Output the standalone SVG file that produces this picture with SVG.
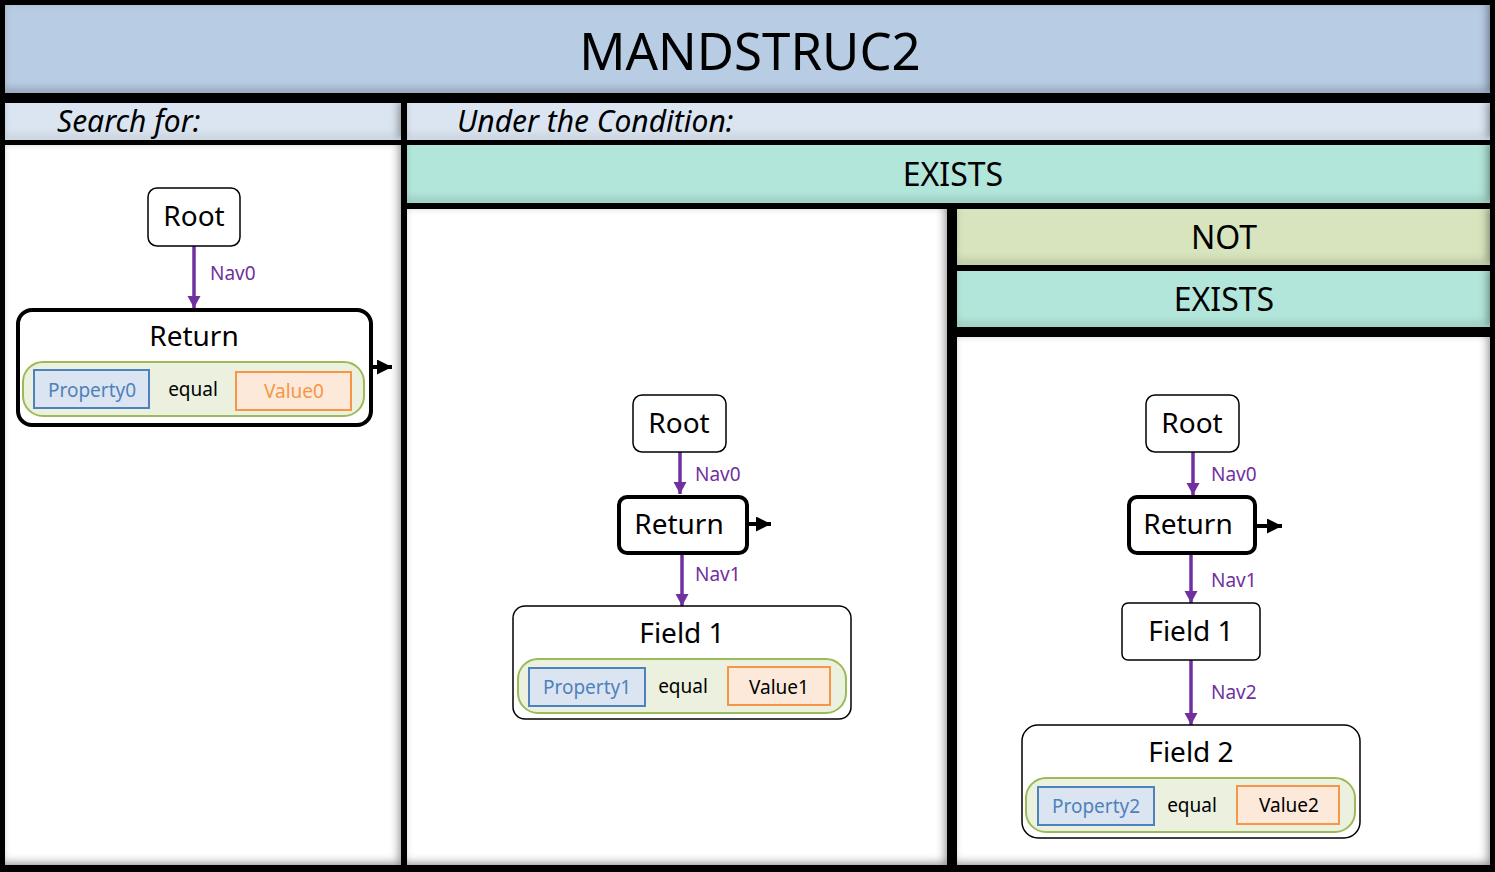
<svg xmlns="http://www.w3.org/2000/svg" width="1495" height="872" viewBox="0 0 1495 872">
<style>
text{font-family:"Noto Sans","Open Sans","Liberation Sans",sans-serif;fill:#000}
.hdr{font-size:30px;font-style:italic}
.band{font-size:32px;text-anchor:middle}
.nodeT{font-size:28px;text-anchor:middle}
.nav{font-size:19px;fill:#7030a0}
.node{fill:#fff;stroke:#000;stroke-width:1.5}
.ret{fill:#fff;stroke:#000;stroke-width:4}
.pill{fill:#ebf1de;stroke:#9bbb59;stroke-width:2}
.prop{fill:#dbe5f1;stroke:#4f81bd;stroke-width:2}
.val{fill:#fde9d9;stroke:#f79646;stroke-width:2}
.pt{fill:#4f81bd;text-anchor:middle;font-size:19px}
.eq{text-anchor:middle;font-size:19px}
.vt{text-anchor:middle;font-size:19px}
.nv{stroke:#7030a0;stroke-width:3.5;fill:none}
.out{stroke:#000;stroke-width:4;fill:none}
</style>
<defs>
<filter id="inset" x="-5%" y="-5%" width="110%" height="110%">
<feFlood flood-color="#000" flood-opacity="0.7" result="f"/>
<feComposite in="f" in2="SourceAlpha" operator="out" result="o"/>
<feOffset in="o" dx="-3" dy="-3" result="oo"/>
<feGaussianBlur in="oo" stdDeviation="4" result="b"/>
<feComposite in="b" in2="SourceAlpha" operator="in" result="s"/>
<feMerge><feMergeNode in="SourceGraphic"/><feMergeNode in="s"/></feMerge>
</filter>
<marker id="pa" markerUnits="userSpaceOnUse" markerWidth="14" markerHeight="14" refX="12" refY="6.5" orient="auto">
<path d="M0,0 L12,6.5 L0,13 Z" fill="#7030a0"/>
</marker>
<marker id="ba" markerUnits="userSpaceOnUse" markerWidth="18" markerHeight="18" refX="15" refY="7.5" orient="auto">
<path d="M0,0 L15,7.5 L0,15 Z" fill="#000"/>
</marker>
</defs>
<rect x="0" y="0" width="1495" height="872" fill="#000"/>
<g id="panels">
<rect x="5" y="5" width="1485" height="88" fill="#b8cce4" filter="url(#inset)"/>
<rect x="5" y="103" width="396" height="37" fill="#dbe5f1" filter="url(#inset)"/>
<rect x="407" y="103" width="1083" height="37" fill="#dbe5f1" filter="url(#inset)"/>
<rect x="5" y="145" width="396" height="720" fill="#fff" filter="url(#inset)"/>
<rect x="407" y="145" width="1083" height="58" fill="#b2e6da" filter="url(#inset)"/>
<rect x="407" y="209" width="540" height="656" fill="#fff" filter="url(#inset)"/>
<rect x="957" y="209" width="533" height="56" fill="#d7e4bd" filter="url(#inset)"/>
<rect x="957" y="271" width="533" height="56" fill="#b2e6da" filter="url(#inset)"/>
<rect x="957" y="337" width="533" height="528" fill="#fff" filter="url(#inset)"/>
<text x="750" y="70" font-size="51" text-anchor="middle">MANDSTRUC2</text>
<text class="hdr" x="57" y="132">Search for:</text>
<text class="hdr" x="457" y="132">Under the Condition:</text>
<text class="band" x="953" y="186">EXISTS</text>
<text class="band" x="1224" y="249">NOT</text>
<text class="band" x="1224" y="311">EXISTS</text>
</g>
<g id="connectors">
<line class="nv" x1="194" y1="246" x2="194" y2="308" marker-end="url(#pa)"/>
<text class="nav" x="210" y="280">Nav0</text>
<line class="out" x1="372" y1="367" x2="392" y2="367" marker-end="url(#ba)"/>
<line class="nv" x1="680" y1="452" x2="680" y2="494" marker-end="url(#pa)"/>
<text class="nav" x="695" y="481">Nav0</text>
<line class="out" x1="748" y1="524" x2="771" y2="524" marker-end="url(#ba)"/>
<line class="nv" x1="682" y1="555" x2="682" y2="606" marker-end="url(#pa)"/>
<text class="nav" x="695" y="581">Nav1</text>
<line class="nv" x1="1193" y1="452" x2="1193" y2="495" marker-end="url(#pa)"/>
<text class="nav" x="1211" y="481">Nav0</text>
<line class="out" x1="1256" y1="526" x2="1282" y2="526" marker-end="url(#ba)"/>
<line class="nv" x1="1191" y1="554" x2="1191" y2="603" marker-end="url(#pa)"/>
<text class="nav" x="1211" y="587">Nav1</text>
<line class="nv" x1="1191" y1="660" x2="1191" y2="725" marker-end="url(#pa)"/>
<text class="nav" x="1211" y="699">Nav2</text>
</g>
<g id="root0">
<rect class="node" x="148" y="188" width="92" height="58" rx="9"/>
<text class="nodeT" x="194" y="226">Root</text>
</g>
<g id="return0">
<rect class="ret" x="18" y="310" width="353" height="115" rx="14"/>
<text class="nodeT" x="194" y="346">Return</text>
<rect class="pill" x="23" y="362" width="341" height="54" rx="20"/>
<rect class="prop" x="34" y="370" width="115" height="38"/>
<text class="pt" x="92" y="397">Property0</text>
<text class="eq" x="193" y="396">equal</text>
<rect class="val" x="236" y="372" width="115" height="38"/>
<text class="vt" x="294" y="398" style="fill:#f79646">Value0</text>
</g>
<g id="root1">
<rect class="node" x="633" y="395" width="93" height="57" rx="9"/>
<text class="nodeT" x="679" y="433">Root</text>
</g>
<g id="return1">
<rect class="ret" x="619" y="497" width="128" height="56" rx="8"/>
<text class="nodeT" x="679" y="534">Return</text>
</g>
<g id="field1a">
<rect class="node" x="513" y="606" width="338" height="113" rx="12"/>
<text class="nodeT" x="682" y="643">Field 1</text>
<rect class="pill" x="518" y="659" width="328" height="54" rx="20"/>
<rect class="prop" x="529" y="668" width="116" height="38"/>
<text class="pt" x="587" y="694">Property1</text>
<text class="eq" x="683" y="693">equal</text>
<rect class="val" x="728" y="667" width="102" height="38"/>
<text class="vt" x="779" y="694">Value1</text>
</g>
<g id="root2">
<rect class="node" x="1146" y="395" width="93" height="57" rx="9"/>
<text class="nodeT" x="1192" y="433">Root</text>
</g>
<g id="return2">
<rect class="ret" x="1129" y="497" width="126" height="56" rx="8"/>
<text class="nodeT" x="1188" y="534">Return</text>
</g>
<g id="field1b">
<rect class="node" x="1122" y="603" width="138" height="57" rx="6"/>
<text class="nodeT" x="1191" y="641">Field 1</text>
</g>
<g id="field2">
<rect class="node" x="1022" y="725" width="338" height="113" rx="16"/>
<text class="nodeT" x="1191" y="762">Field 2</text>
<rect class="pill" x="1026" y="778" width="329" height="54" rx="20"/>
<rect class="prop" x="1038" y="787" width="116" height="38"/>
<text class="pt" x="1096" y="813">Property2</text>
<text class="eq" x="1192" y="812">equal</text>
<rect class="val" x="1237" y="786" width="102" height="38"/>
<text class="vt" x="1289" y="812">Value2</text>
</g>
</svg>
